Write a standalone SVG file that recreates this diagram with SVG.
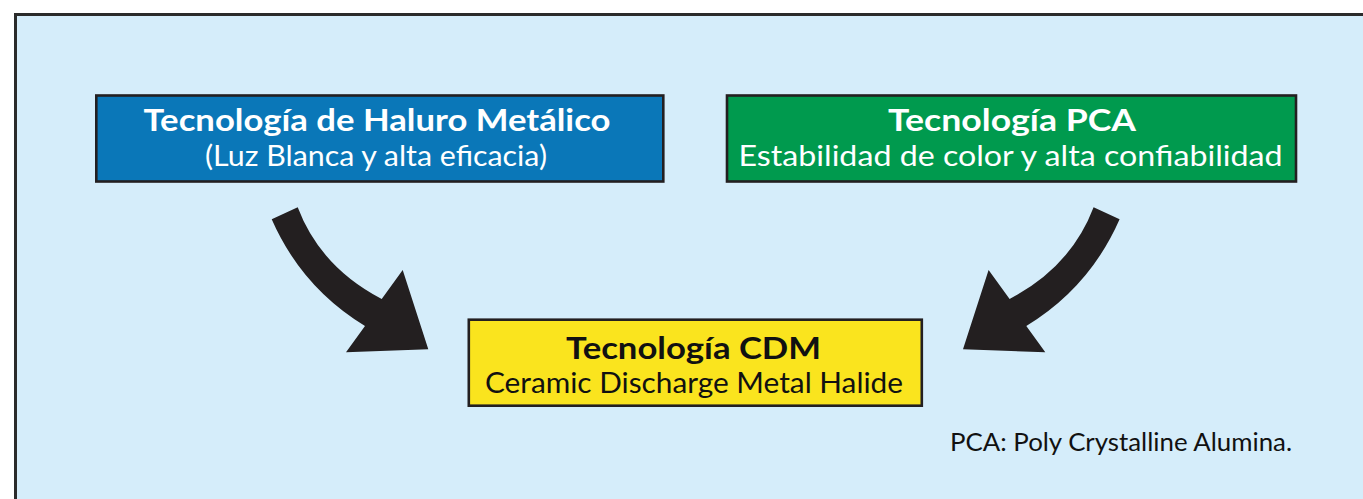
<svg xmlns="http://www.w3.org/2000/svg" xmlns:xlink="http://www.w3.org/1999/xlink" width="1363" height="499" viewBox="0 0 1363 499">
<style>
.box{stroke:#231f20;stroke-width:2.6}
.t1{font-family:Lato,"Liberation Sans",sans-serif;font-weight:bold;font-size:30px;text-anchor:middle}
.t2{font-family:Lato,"Liberation Sans",sans-serif;font-size:29.5px;text-anchor:middle}
.w{fill:#ffffff}
.k{fill:#111111}
.arrow{fill:#231f20}
</style>
<defs>
<path id="arr" d="M271.7,219.3 Q301.6,287.4 365,326 L346,352.3 L428.3,349.3 L402.7,270 L381.7,299 Q320.3,266.9 297.7,207.3 Z"/>
</defs>
<rect x="0" y="0" width="1363" height="499" fill="#ffffff"/>
<rect id="frame" x="15.5" y="14.5" width="1400" height="520" fill="#d5edfa" stroke="#2b2b2b" stroke-width="3"/>
<g id="connectors" class="arrow">
<use xlink:href="#arr"/>
<use xlink:href="#arr" transform="translate(1391.3,0) scale(-1,1)"/>
</g>
<g id="node-haluro">
<rect class="box" x="96.3" y="95.5" width="567" height="86" fill="#0a77b8"/>
<text class="t1 w" x="377" y="131" textLength="467" lengthAdjust="spacingAndGlyphs">Tecnología de Haluro Metálico</text>
<text class="t2 w" x="376" y="166" textLength="342" lengthAdjust="spacingAndGlyphs">(Luz Blanca y alta eficacia)</text>
</g>
<g id="node-pca">
<rect class="box" x="727" y="95.5" width="569" height="86" fill="#009a4e"/>
<text class="t1 w" x="1012" y="131" textLength="248" lengthAdjust="spacingAndGlyphs">Tecnología PCA</text>
<text class="t2 w" x="1010.5" y="166" textLength="544" lengthAdjust="spacingAndGlyphs">Estabilidad de color y alta confiabilidad</text>
</g>
<g id="node-cdm">
<rect class="box" x="468.8" y="319.7" width="453" height="86" fill="#fae41e"/>
<text class="t1 k" x="693.5" y="358.5" textLength="255" lengthAdjust="spacingAndGlyphs">Tecnología CDM</text>
<text class="t2 k" x="694" y="392.5" textLength="418" lengthAdjust="spacingAndGlyphs">Ceramic Discharge Metal Halide</text>
</g>
<text id="note" x="950" y="450.5" font-family="Lato,'Liberation Sans',sans-serif" font-size="25" fill="#111111" textLength="342" lengthAdjust="spacingAndGlyphs">PCA: Poly Crystalline Alumina.</text>
</svg>
